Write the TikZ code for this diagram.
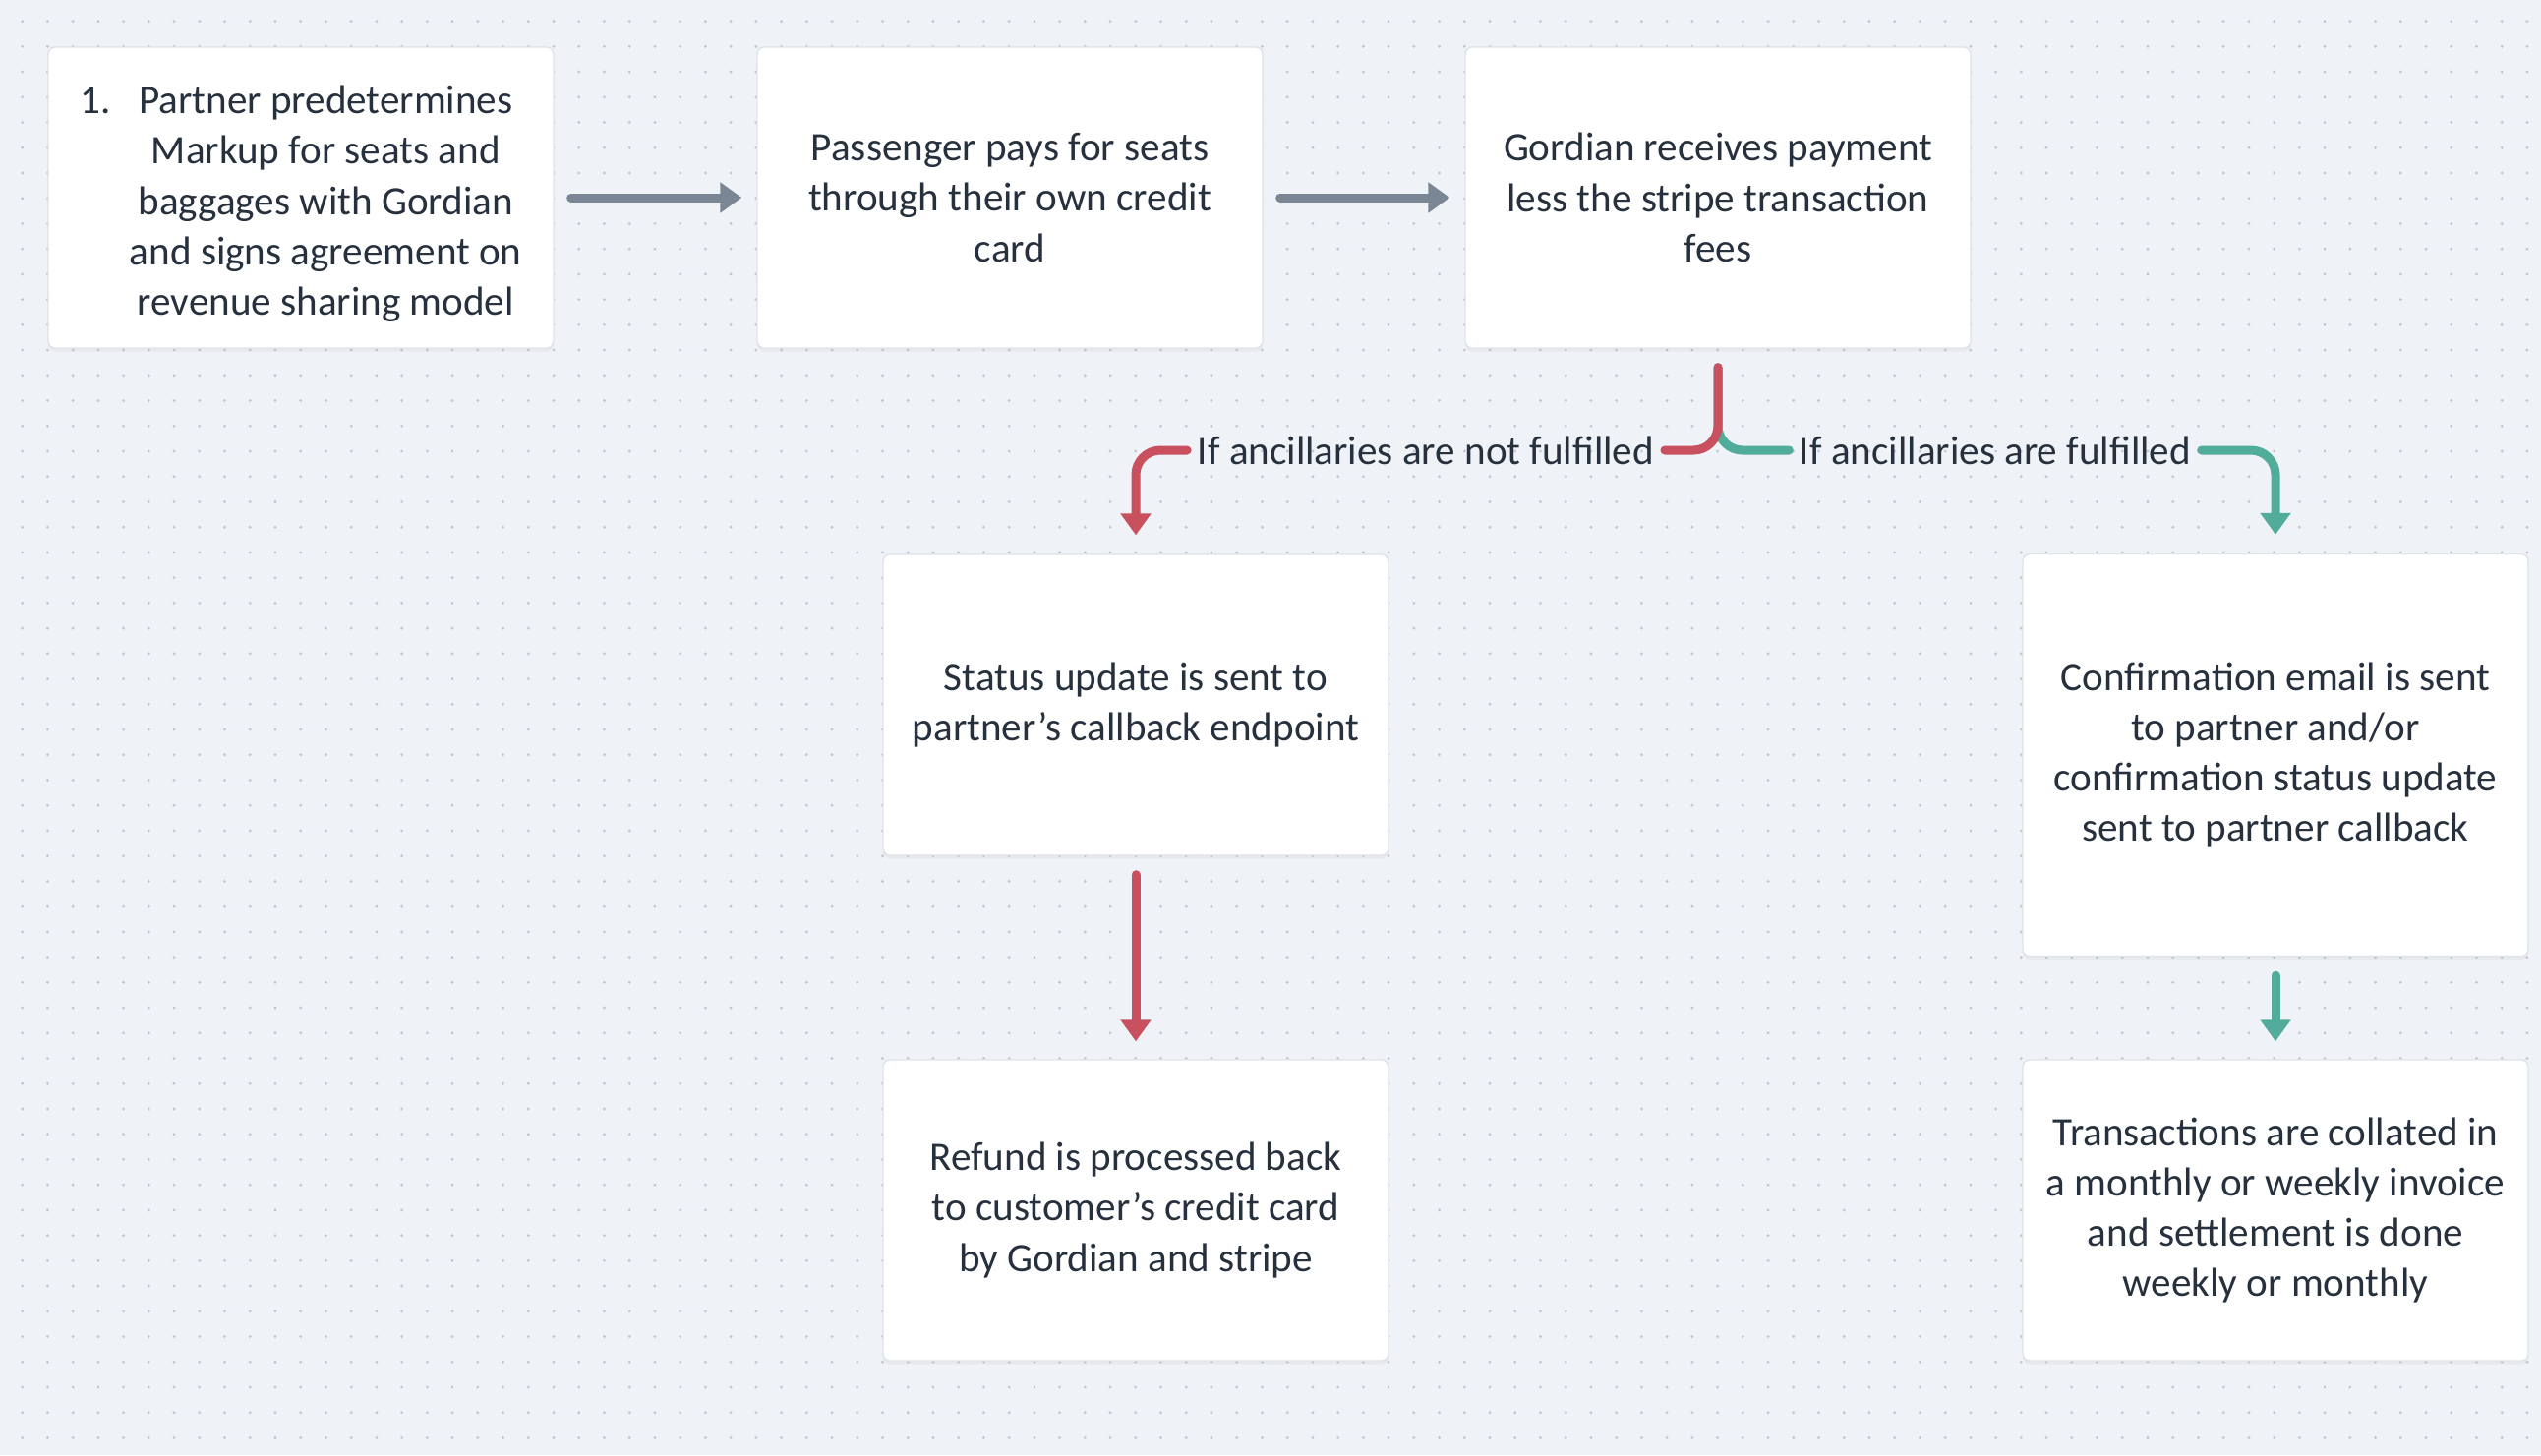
\documentclass[tikz,border=0pt]{standalone}
\usepackage{fontspec}
\setmainfont{Carlito}
\usetikzlibrary{arrows.meta,shadows}
\definecolor{bg}{HTML}{EFF2F6}
\definecolor{dot}{HTML}{C2C8D2}
\definecolor{ink}{HTML}{27313E}
\definecolor{edge}{HTML}{DFE3E8}
\definecolor{greyline}{HTML}{7B8694}
\definecolor{redline}{HTML}{C8505F}
\definecolor{greenline}{HTML}{52AC9C}
\begin{document}
\begin{tikzpicture}[
    font=\fontsize{11.7}{14.6}\selectfont,
    box/.style={draw=edge, line width=0.4pt, fill=white, rounded corners=2pt,
      drop shadow={opacity=0.07, shadow xshift=0pt, shadow yshift=-1pt},
      minimum width=5.14cm, minimum height=3.06cm, inner sep=0pt,
      align=center, text=ink},
    link/.style={line width=0.09cm, line cap=round, rounded corners=0.25cm},
    tip/.style={-{Triangle[length=0.22cm,width=0.3cm]}},
    cond/.style={text=ink, inner xsep=0.1cm, inner ysep=0pt}
  ]
  \useasboundingbox (0,0) rectangle (25.84,-14.80);
  \fill[bg] (0,0) rectangle (25.84,-14.80);
  \foreach \i in {0,...,99}
    \foreach \j in {0,...,56}
      \fill[dot] (0.227+0.2573*\i,-0.216-0.2573*\j) circle (0.016);
  \draw
    (3.06,-2.01) node[box] (1){\raisebox{-0.07cm}[\height][\depth]{\begin{tabular}{@{}l@{\hspace{5.5pt}}c@{}}
      1.&Partner predetermines\\
      &Markup for seats and\\
      &baggages with Gordian\\
      &and signs agreement on\\
      &revenue sharing model
    \end{tabular}}}
    (10.27,-2.01) node[box] (2){Passenger pays for seats\\through their own credit\\card}
    (17.47,-2.01) node[box] (3){Gordian receives payment\\less the stripe transaction\\fees}
    (11.55,-7.17) node[box] (4){Status update is sent to\\partner’s callback endpoint}
    (11.55,-12.31) node[box] (5){Refund is processed back\\to customer’s credit card\\by Gordian and stripe}
    (23.14,-7.68) node[box, minimum height=4.09cm] (6){Confirmation email is sent\\to partner and/or\\confirmation status update\\sent to partner callback}
    (23.14,-12.31) node[box] (7){Transactions are collated in\\a monthly or weekly invoice\\and settlement is done\\weekly or monthly}
    (14.50,-4.58) node[cond] (n){If ancillaries are not fulfilled}
    (20.29,-4.58) node[cond] (y){If ancillaries are fulfilled};
  \coordinate (s) at ([yshift=-0.19cm]3.south);
  \begin{scope}[link]
    \draw[greyline, tip, shorten <=0.17cm, shorten >=0.15cm] (1) -- (2);
    \draw[greyline, tip, shorten <=0.17cm, shorten >=0.15cm] (2) -- (3);
    \draw[greenline] (s) |- (y.west);
    \draw[greenline, tip, shorten >=0.19cm] (y.east) -| (6.north);
    \draw[redline] (s) |- (n.east);
    \draw[redline, tip, shorten >=0.19cm] (n.west) -| (4.north);
    \draw[redline, tip, shorten <=0.19cm, shorten >=0.18cm] (4) -- (5);
    \draw[greenline, tip, shorten <=0.19cm, shorten >=0.18cm] (6) -- (7);
  \end{scope}
\end{tikzpicture}
\end{document}
